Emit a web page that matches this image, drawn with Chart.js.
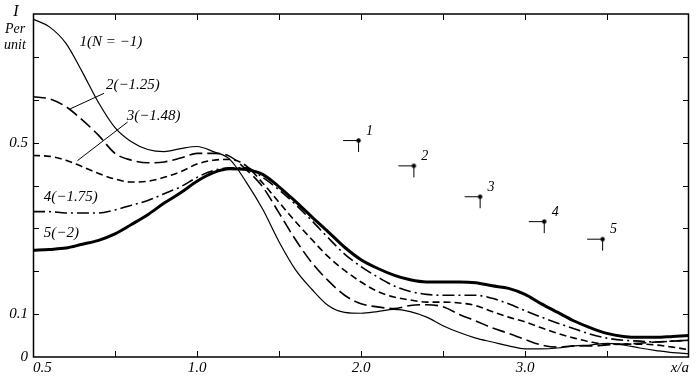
<!DOCTYPE html>
<html>
<head>
<meta charset="utf-8">
<script src="https://cdn.jsdelivr.net/npm/chart.js@4"></script>
<style>
  html, body { margin: 0; padding: 0; background: #fff; overflow: hidden; }
  #wrap { width: 700px; height: 380px; }
</style>
</head>
<body>
<div id="wrap"><canvas id="myChart" width="700" height="380"></canvas></div>
<script>
// x positions (axis units, one tick every 0.5)
const xs = [0, 0.1, 0.2, 0.3, 0.4, 0.5, 0.6, 0.7, 0.8, 0.9,
            1.0, 1.1, 1.2, 1.3, 1.4, 1.5, 1.6, 1.7, 1.8, 1.9,
            2.0, 2.1, 2.2, 2.3, 2.4, 2.5, 2.6, 2.7, 2.8, 2.9,
            3.0, 3.1, 3.2, 3.3, 3.4, 3.5, 3.6, 3.7, 3.8, 3.9, 4.0];

// current per unit, curve 1 (N = -1)
const curve1 = [0.788, 0.770, 0.732, 0.665, 0.593, 0.535, 0.502, 0.484, 0.479, 0.486,
                0.491, 0.479, 0.461, 0.408, 0.345, 0.269, 0.204, 0.158, 0.120, 0.104,
                0.102, 0.106, 0.111, 0.106, 0.093, 0.073, 0.057, 0.044, 0.035, 0.026,
                0.019, 0.019, 0.021, 0.026, 0.028, 0.032, 0.028, 0.021, 0.015, 0.010, 0.008];
// curve 2 (N = -1.25)
const curve2 = [0.607, 0.602, 0.584, 0.553, 0.517, 0.475, 0.459, 0.453, 0.455, 0.464,
                0.475, 0.475, 0.468, 0.437, 0.397, 0.336, 0.274, 0.220, 0.178, 0.144,
                0.124, 0.117, 0.113, 0.120, 0.122, 0.117, 0.099, 0.084, 0.068, 0.055,
                0.041, 0.028, 0.023, 0.026, 0.026, 0.028, 0.030, 0.032, 0.035, 0.037, 0.039];
// curve 3 (N = -1.48)
const curve3 = [0.470, 0.468, 0.459, 0.444, 0.428, 0.415, 0.408, 0.410, 0.419, 0.432,
                0.450, 0.459, 0.461, 0.446, 0.406, 0.361, 0.316, 0.274, 0.234, 0.202,
                0.175, 0.153, 0.140, 0.133, 0.128, 0.128, 0.126, 0.120, 0.106, 0.093,
                0.082, 0.068, 0.055, 0.044, 0.035, 0.030, 0.030, 0.030, 0.028, 0.023, 0.017];
// curve 4 (N = -1.75)
const curve4 = [0.339, 0.339, 0.336, 0.336, 0.336, 0.343, 0.354, 0.365, 0.381, 0.397,
                0.419, 0.435, 0.441, 0.441, 0.419, 0.390, 0.356, 0.318, 0.278, 0.240,
                0.211, 0.187, 0.166, 0.153, 0.146, 0.144, 0.144, 0.144, 0.137, 0.124,
                0.108, 0.093, 0.079, 0.066, 0.053, 0.044, 0.039, 0.037, 0.035, 0.037, 0.039];
// curve 5 (N = -2)
const curve5 = [0.249, 0.251, 0.254, 0.263, 0.272, 0.287, 0.309, 0.332, 0.359, 0.383,
                0.410, 0.430, 0.439, 0.437, 0.426, 0.397, 0.363, 0.327, 0.292, 0.256,
                0.227, 0.207, 0.191, 0.180, 0.175, 0.175, 0.175, 0.173, 0.166, 0.160,
                0.146, 0.124, 0.104, 0.084, 0.068, 0.055, 0.048, 0.046, 0.046, 0.048, 0.050];

// marked points 1..5
const markX = [1.982, 2.319, 2.723, 3.114, 3.470];
const markY = [0.506, 0.447, 0.375, 0.317, 0.276];
const markNames = ['1', '2', '3', '4', '5'];

// curve captions
const capText = ['1(N = \u22121)', '2(\u22121.25)', '3(\u22121.48)', '4(\u22121.75)', '5(\u22122)'];
const capX = [0.283, 0.445, 0.571, 0.066, 0.066];
const capY = [0.735, 0.634, 0.562, 0.373, 0.288];

// tick labels
const xTickLabels = { 0: '0.5', 1: '1.0', 2: '2.0', 3: '3.0', 4: 'x/a' };
const yTickLabels = { 0: '0', 0.1: '0.1', 0.5: '0.5' };

const serif = 'Liberation Serif, DejaVu Serif, serif';

function pts(ys) {
    return xs.map((x, i) => ({ x: x, y: ys[i] }));
}

// marker: short line to the left of the point, stem down, dot on the corner
function markerImage() {
    const c = document.createElement('canvas');
    c.width = 34; c.height = 28;
    const g = c.getContext('2d');
    g.strokeStyle = '#000';
    g.lineWidth = 1;
    g.beginPath();
    g.moveTo(2, 14.5); g.lineTo(17, 14.5);
    g.moveTo(17.5, 14); g.lineTo(17.5, 26);
    g.stroke();
    g.fillStyle = '#000';
    g.beginPath();
    g.arc(17.5, 14.5, 2.2, 0, Math.PI * 2);
    g.fill();
    return c;
}

const decor = {
    id: 'decor',
    afterDatasetsDraw(chart) {
        const ctx = chart.ctx;
        const a = chart.chartArea;
        const sx = chart.scales.x, sy = chart.scales.y;
        ctx.save();
        ctx.strokeStyle = '#000';
        ctx.fillStyle = '#000';
        ctx.lineWidth = 1.5;
        ctx.strokeRect(a.left + 0.5, a.top, a.right - a.left - 1, a.bottom - a.top);

        // inward ticks
        ctx.lineWidth = 1;
        ctx.beginPath();
        for (let v = 0.5; v < 4; v += 0.5) {
            const px = Math.round(sx.getPixelForValue(v)) + 0.5;
            ctx.moveTo(px, a.bottom); ctx.lineTo(px, a.bottom - 6);
            ctx.moveTo(px, a.top); ctx.lineTo(px, a.top + 6);
        }
        for (let v = 0.1; v < 0.79; v += 0.1) {
            const py = Math.round(sy.getPixelForValue(v)) + 0.5;
            ctx.moveTo(a.left, py); ctx.lineTo(a.left + 6, py);
            ctx.moveTo(a.right, py); ctx.lineTo(a.right - 6, py);
        }
        ctx.stroke();

        // leader lines for captions 2 and 3
        ctx.beginPath();
        ctx.moveTo(sx.getPixelForValue(0.223), sy.getPixelForValue(0.578));
        ctx.lineTo(sx.getPixelForValue(0.433), sy.getPixelForValue(0.615));
        ctx.moveTo(sx.getPixelForValue(0.271), sy.getPixelForValue(0.458));
        ctx.lineTo(sx.getPixelForValue(0.577), sy.getPixelForValue(0.548));
        ctx.stroke();

        // captions
        ctx.font = 'italic 15px ' + serif;
        ctx.textAlign = 'left';
        ctx.textBaseline = 'middle';
        for (let i = 0; i < capText.length; i++) {
            ctx.fillText(capText[i], sx.getPixelForValue(capX[i]), sy.getPixelForValue(capY[i]));
        }
        // numbers next to the marked points
        ctx.font = 'italic 14px ' + serif;
        for (let i = 0; i < markNames.length; i++) {
            ctx.fillText(markNames[i], sx.getPixelForValue(markX[i]) + 8, sy.getPixelForValue(markY[i]) - 9);
        }

        // y axis title
        ctx.textAlign = 'center';
        ctx.font = 'italic 16px ' + serif;
        ctx.fillText('I', 16, 12);
        ctx.font = 'italic 14px ' + serif;
        ctx.fillText('Per', 15, 29);
        ctx.fillText('unit', 15, 45);
        ctx.restore();
    }
};

const ctx = document.getElementById('myChart').getContext('2d');
const myChart = new Chart(ctx, {
    type: 'line',
    data: {
        datasets: [
            { label: '1', data: pts(curve1), borderColor: '#000', borderWidth: 1.2, pointRadius: 0, cubicInterpolationMode: 'monotone' },
            { label: '2', data: pts(curve2), borderColor: '#000', borderWidth: 1.6, borderDash: [13, 5], pointRadius: 0, cubicInterpolationMode: 'monotone' },
            { label: '3', data: pts(curve3), borderColor: '#000', borderWidth: 1.6, borderDash: [7, 4], pointRadius: 0, cubicInterpolationMode: 'monotone' },
            { label: '4', data: pts(curve4), borderColor: '#000', borderWidth: 1.6, borderDash: [12, 4, 2, 4], pointRadius: 0, cubicInterpolationMode: 'monotone' },
            { label: '5', data: pts(curve5), borderColor: '#000', borderWidth: 3, pointRadius: 0, cubicInterpolationMode: 'monotone' },
            {
                type: 'scatter', label: 'marks',
                data: markX.map((x, i) => ({ x: x, y: markY[i] })),
                pointStyle: markerImage(), pointRadius: 10, showLine: false
            }
        ]
    },
    options: {
        responsive: false,
        animation: false,
        layout: { padding: { top: 1, right: 2, left: 0, bottom: 0 } },
        plugins: { legend: { display: false }, tooltip: { enabled: false } },
        scales: {
            x: {
                type: 'linear', min: 0, max: 4,
                grid: { display: false, drawTicks: false },
                border: { display: false },
                afterFit: (s) => { s.height = 23; },
                afterBuildTicks: (s) => { s.ticks = [0, 0.5, 1, 1.5, 2, 2.5, 3, 3.5, 4].map(v => ({ value: v })); },
                ticks: {
                    autoSkip: false, maxRotation: 0, align: 'inner', padding: 2,
                    color: '#000',
                    font: { family: serif, style: 'italic', size: 15 },
                    callback: (v) => xTickLabels[v] || ''
                }
            },
            y: {
                type: 'linear', min: 0, max: 0.8,
                grid: { display: false, drawTicks: false },
                border: { display: false },
                afterFit: (s) => { s.width = 33; },
                afterBuildTicks: (s) => { s.ticks = [0, 0.1, 0.5].map(v => ({ value: v })); },
                ticks: {
                    autoSkip: false, padding: 5,
                    color: '#000',
                    font: { family: serif, style: 'italic', size: 15 },
                    callback: (v) => yTickLabels[v] || ''
                }
            }
        }
    },
    plugins: [decor]
});
</script>
</body>
</html>
